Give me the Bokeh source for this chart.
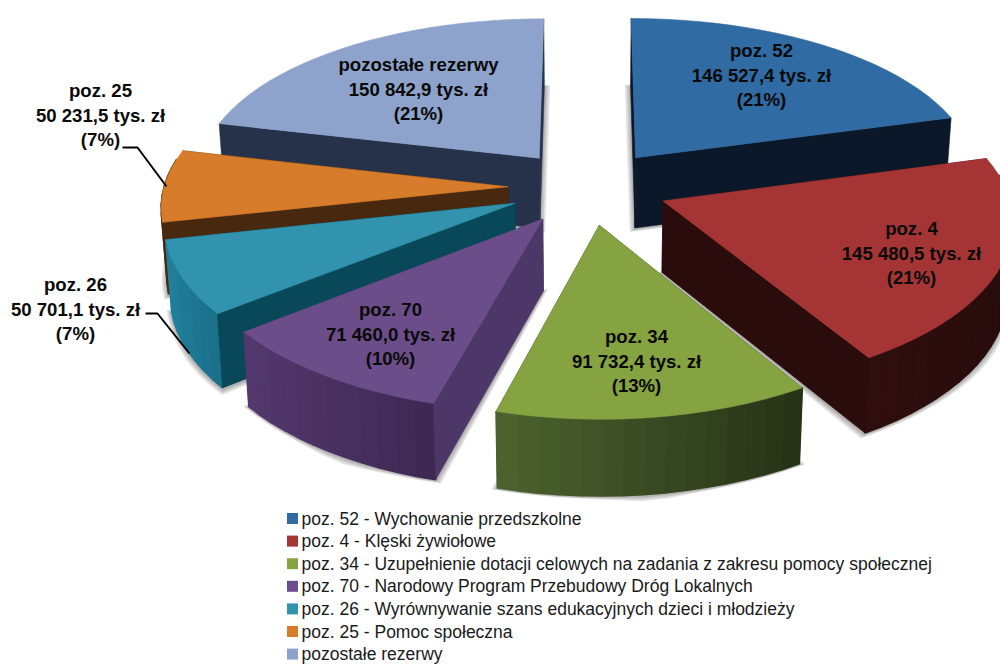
import math
from bokeh.plotting import figure
from bokeh.models import Range1d
from bokeh.core.properties import value
from bokeh.embed import file_html
from bokeh.resources import INLINE

# Budget reserve items, in thousands of PLN
codes = ["poz. 52", "poz. 4", "poz. 34", "poz. 70", "poz. 26", "poz. 25", "pozostałe rezerwy"]
amounts = [146527.4, 145480.5, 91732.4, 71460.0, 50701.1, 50231.5, 150842.9]
amount_labels = ["146 527,4 tys. zł", "145 480,5 tys. zł", "91 732,4 tys. zł", "71 460,0 tys. zł",
                 "50 701,1 tys. zł", "50 231,5 tys. zł", "150 842,9 tys. zł"]
legend_labels = [
    "poz. 52 - Wychowanie przedszkolne",
    "poz. 4 - Klęski żywiołowe",
    "poz. 34 - Uzupełnienie dotacji celowych na zadania z zakresu pomocy społecznej",
    "poz. 70 - Narodowy Program Przebudowy Dróg Lokalnych",
    "poz. 26 - Wyrównywanie szans edukacyjnych dzieci i młodzieży",
    "poz. 25 - Pomoc społeczna",
    "pozostałe rezerwy",
]

# Colours of each slice: top face, radial walls, outer rim from screen left to right
top_colors = ["#306ba3", "#a53534", "#86a342", "#6b4d89", "#3193ad", "#d77c2a", "#8ea3cb"]
wall_colors = ["#0a182a", "#2b0c0c", "#2a3516", "#4d3768", "#084858", "#48280e", "#26324a"]
rim_left = ["#0c1e32", "#300e0e", "#4d632e", "#54386e", "#20809c", "#48280e", "#26324a"]
rim_right = ["#0a182a", "#280c0c", "#263216", "#3d2852", "#1a6e88", "#48280e", "#26324a"]

FONT = "Liberation Sans"

# Pie geometry, in screen pixels, with a one-point perspective towards a far horizon
CX, CY, HORIZON = 587.5, 186.5, -1205.0
RADIUS, EXPLODE, THICK = 344.0, 80.0, 71.0
PERSP = 0.000338
WIDTH_PERSP = 0.9
BASE_SHRINK = 0.986


def project(x, y, bottom=False):
    w = 1.0 + PERSP * y
    sx = CX + x / w ** WIDTH_PERSP
    sy = HORIZON + (CY - HORIZON) / w
    if bottom:
        sx = CX + (sx - CX) * BASE_SHRINK
        sy += THICK / w ** 0.5
    return sx, sy


def on_ground(mid, theta, r):
    return (EXPLODE * math.sin(mid) + r * math.sin(theta),
            EXPLODE * math.cos(mid) + r * math.cos(theta))


total = sum(amounts)
slices = []
running = 0.0
for i, amount in enumerate(amounts):
    a = running / total * 2 * math.pi
    running += amount
    b = running / total * 2 * math.pi
    slices.append((i, a, b, (a + b) / 2))

p = figure(width=1000, height=664, x_range=Range1d(0, 1000), y_range=Range1d(664, 0),
           output_backend="svg", toolbar_location=None, min_border=0,
           x_axis_type=None, y_axis_type=None, outline_line_color=None,
           background_fill_color="white", border_fill_color="white")
p.grid.visible = False


def poly(points, color, alpha=1.0, line=0.6):
    xs = [pt[0] for pt in points]
    ys = [pt[1] for pt in points]
    p.patch(xs, ys, fill_color=color, fill_alpha=alpha,
            line_color=color if line else None, line_width=line, line_alpha=alpha)


def lerp_hex(c1, c2, t):
    v1 = [int(c1[k:k + 2], 16) for k in (1, 3, 5)]
    v2 = [int(c2[k:k + 2], 16) for k in (1, 3, 5)]
    return "#%02x%02x%02x" % tuple(round(u + (v - u) * t) for u, v in zip(v1, v2))


# Slices are painted from the back of the pie to the front
for i, a, b, mid in sorted(slices, key=lambda s: -math.cos(s[3])):
    steps = max(8, int((b - a) / math.radians(3)))
    thetas = [a + (b - a) * k / steps for k in range(steps + 1)]
    apex = on_ground(mid, 0.0, 0.0)
    rim = [on_ground(mid, t, RADIUS) for t in thetas]

    # soft contact shadow spreading out from the base outline
    base = [project(*apex, bottom=True)] + [project(*q, bottom=True) for q in rim]
    bx = sum(q[0] for q in base) / len(base)
    by = sum(q[1] for q in base) / len(base)
    for spread in (6.0, 4.0, 2.0):
        grown = []
        for qx, qy in base:
            d = math.hypot(qx - bx, qy - by) or 1.0
            grown.append((qx + (qx - bx) / d * spread, qy + (qy - by) / d * spread + 1.0))
        poly(grown, "#000000", alpha=0.11, line=0)

    # radial walls: the ones facing away first, so the front ones cover them
    wall_a = [project(*apex), project(*rim[0]), project(*rim[0], bottom=True), project(*apex, bottom=True)]
    wall_b = [project(*apex), project(*rim[-1]), project(*rim[-1], bottom=True), project(*apex, bottom=True)]
    walls = [(math.sin(a) < 0, wall_a), (math.sin(b) > 0, wall_b)]
    for front, wall in walls:
        if not front:
            poly(wall, wall_colors[i])

    # outer rim in narrow bands, shaded across its screen width
    segs = []
    for k in range(steps):
        if math.cos((thetas[k] + thetas[k + 1]) / 2) < 0.15:
            segs.append((project(*rim[k]), project(*rim[k + 1]),
                         project(*rim[k + 1], bottom=True), project(*rim[k], bottom=True)))
    if segs:
        xs_all = [s[0][0] for s in segs] + [s[1][0] for s in segs]
        lo, hi = min(xs_all), max(xs_all)
        for s in segs:
            t = ((s[0][0] + s[1][0]) / 2 - lo) / max(hi - lo, 1.0)
            poly(list(s), lerp_hex(rim_left[i], rim_right[i], t), line=1.6)

    for front, wall in walls:
        if front:
            poly(wall, wall_colors[i])

    # top face
    poly([project(*apex)] + [project(*q) for q in rim], top_colors[i])

# Leader lines of the two outside labels
leader_x = [[122, 137, 166], [145, 157, 189]]
leader_y = [[147, 147, 186], [313, 313, 353]]
p.multi_line(leader_x, leader_y, line_color="#000000", line_width=2)

# Data labels: name, amount, share
label_x = [761, 911, 636, 390, 75, 100, 418]
label_y = [50, 228, 336, 309, 284, 90, 64]
line_gap = 24.7
for i, amount in enumerate(amounts):
    share = "(%d%%)" % round(amount / total * 100)
    for j, line in enumerate((codes[i], amount_labels[i], share)):
        p.text([label_x[i]], [label_y[i] + j * line_gap], text=[line], text_align="center",
               text_baseline="middle", text_font=value(FONT), text_font_style="bold",
               text_font_size="18.6px", text_color="#0a0a0a")

# Legend below the pie
legend_x = 292
legend_text_x = 301
legend_y0 = 518
legend_gap = 22.6
for i, label in enumerate(legend_labels):
    y = legend_y0 + i * legend_gap
    p.rect([legend_x], [y], width=11, height=11, fill_color=top_colors[i], line_color=None)
    p.text([legend_text_x], [y], text=[label], text_align="left", text_baseline="middle",
           text_font=value(FONT), text_font_size="17.5px", text_color="#1a1a1a")

open("out.html", "w").write(file_html(p, INLINE))
